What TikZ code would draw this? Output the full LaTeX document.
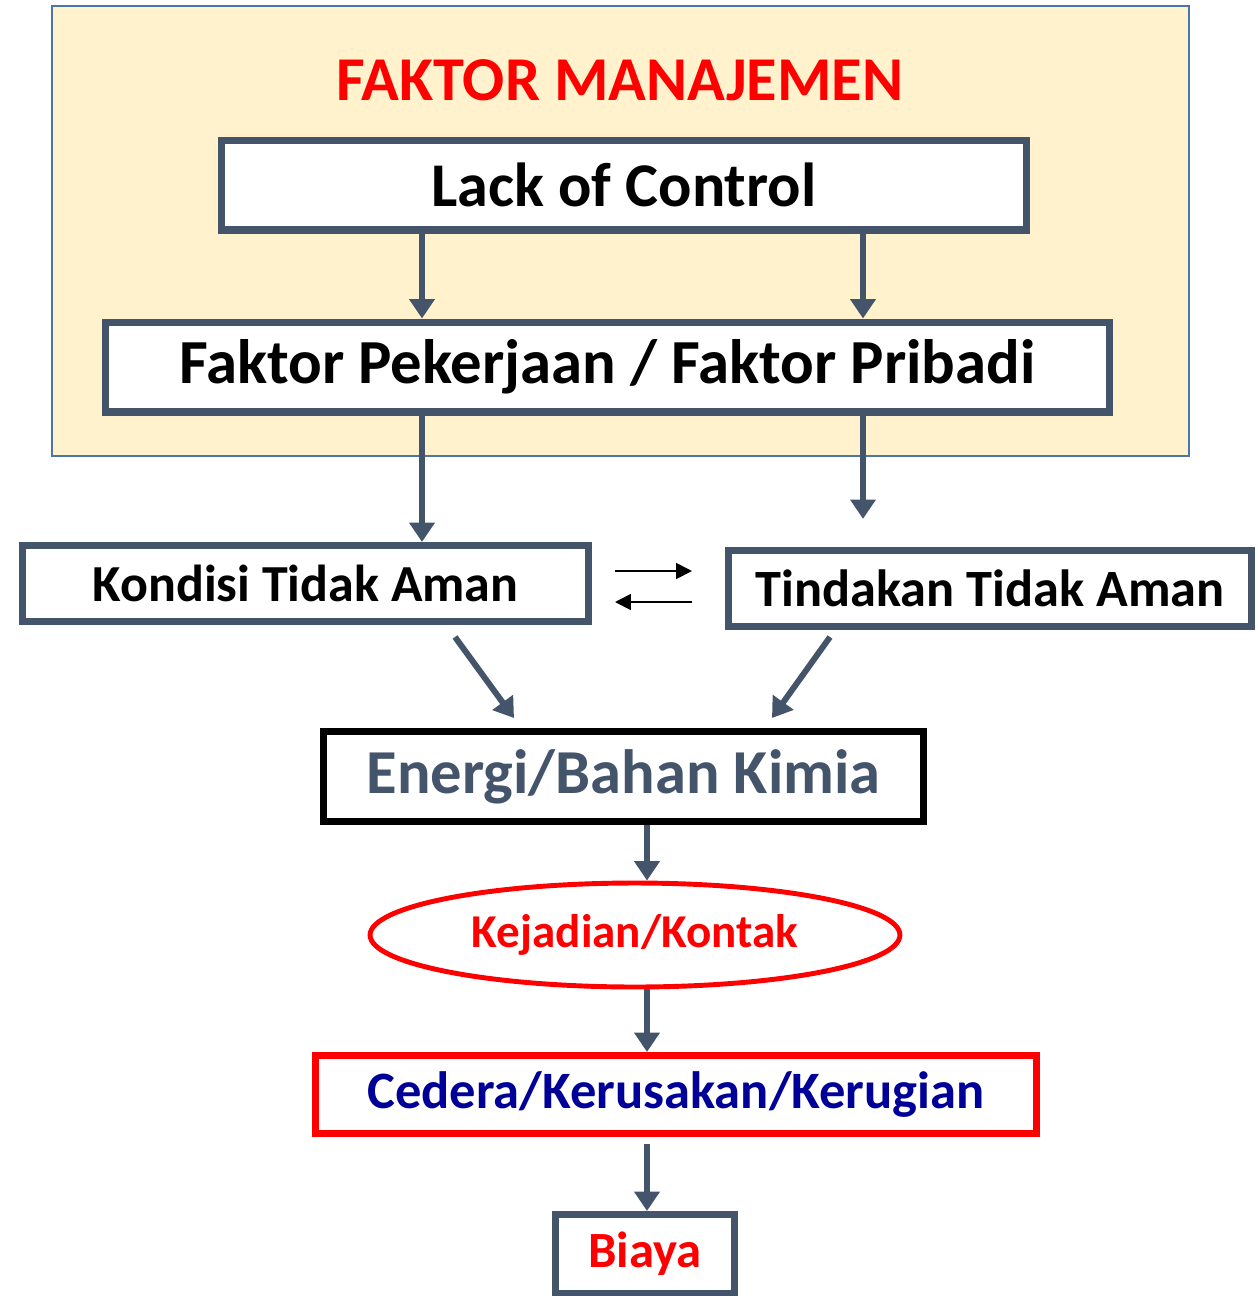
\documentclass[tikz,border=0pt]{standalone}
\usepackage{fontspec}
\setmainfont{Carlito}
\usetikzlibrary{arrows.meta,shapes.geometric}
\definecolor{slate}{HTML}{44546A}
\definecolor{panelfill}{HTML}{FFF2CC}
\definecolor{panelline}{HTML}{4A76A8}
\definecolor{navy}{HTML}{000099}
\tikzset{
  box/.style={draw=slate, line width=4pt, fill=white, rectangle, inner sep=0pt, font=\bfseries},
  arr/.style={draw=slate, line width=3.4pt, -{Triangle[length=11pt, width=14pt]}},
  thinarr/.style={draw=black, line width=1.1pt, -{Triangle[length=9pt, width=9pt]}}
}

\begin{document}
\begin{tikzpicture}[x=0.02cm, y=-0.02cm]
  \useasboundingbox (0,0) rectangle (1258,1296);

  % management panel
  \node[draw=panelline, line width=1.2pt, fill=panelfill, minimum width=22.74cm, minimum height=9cm] (panel) at (620.5,231) {};
  \node[text=red, font=\bfseries\fontsize{35.5}{38}\selectfont] (title) at (620,80) {FAKTOR MANAJEMEN};

  \node[box, minimum width=16.1cm, minimum height=1.8cm, font=\bfseries\fontsize{35.4}{38}\selectfont] (lack) at (624,185) {Lack of Control};
  \node[box, minimum width=20.08cm, minimum height=1.8cm, font=\bfseries\fontsize{35.7}{38}\selectfont] (faktor) at (607.5,367) {\raisebox{-3pt}{Faktor Pekerjaan / Faktor Pribadi}};

  \node[box, minimum width=11.32cm, minimum height=1.52cm, font=\bfseries\fontsize{29.6}{32}\selectfont] (kondisi) at (305.5,583.5) {Kondisi Tidak Aman};
  \node[box, minimum width=10.46cm, minimum height=1.52cm, font=\bfseries\fontsize{29.8}{32}\selectfont] (tindakan) at (990,588.5) {Tindakan Tidak Aman};

  \node[box, draw=black, text=slate, minimum width=12cm, minimum height=1.8cm, font=\bfseries\fontsize{35.6}{38}\selectfont] (energi) at (623.5,776.5) {Energi/Bahan Kimia};
  \node[ellipse, draw=red, line width=2.8pt, fill=white, text=red, minimum width=10.6cm, minimum height=2.08cm, font=\bfseries\fontsize{26.8}{30}\selectfont] (kejadian) at (635,935) {Kejadian/Kontak};
  \node[box, draw=red, text=navy, minimum width=14.42cm, minimum height=1.56cm, font=\bfseries\fontsize{29.9}{33}\selectfont] (cedera) at (676,1094.5) {Cedera/Kerusakan/Kerugian};
  \node[box, text=red, minimum width=3.58cm, minimum height=1.58cm, font=\bfseries\fontsize{28.9}{32}\selectfont] (biaya) at (645,1254) {Biaya};

  % arrows
  \coordinate (xl) at (422,0);
  \coordinate (xr) at (863,0);
  \coordinate (xm) at (647,0);
  \draw[arr] (lack.south -| xl) -- (faktor.north -| xl);
  \draw[arr] (lack.south -| xr) -- (faktor.north -| xr);
  \draw[arr] (faktor.south -| xl) -- (kondisi.north -| xl);
  \draw[arr, shorten >=16pt] (faktor.south -| xr) -- (tindakan.north -| xr);

  \coordinate (k1) at (455,637);
  \coordinate (e1) at (514,718);
  \coordinate (t1) at (830,637);
  \coordinate (e2) at (772,718);
  \draw[arr] (k1) -- (e1);
  \draw[arr] (t1) -- (e2);

  \coordinate (d1) at (615,571);
  \coordinate (d2) at (692,571);
  \coordinate (d3) at (692,602);
  \coordinate (d4) at (615,602);
  \draw[thinarr] (d1) -- (d2);
  \draw[thinarr] (d3) -- (d4);

  \draw[arr] (energi.south -| xm) -- (kejadian.north -| xm);
  \draw[arr] (kejadian.south -| xm) -- (cedera.north -| xm);
  \draw[arr, shorten <=4pt] (cedera.south -| xm) -- (biaya.north -| xm);
\end{tikzpicture}
\end{document}
